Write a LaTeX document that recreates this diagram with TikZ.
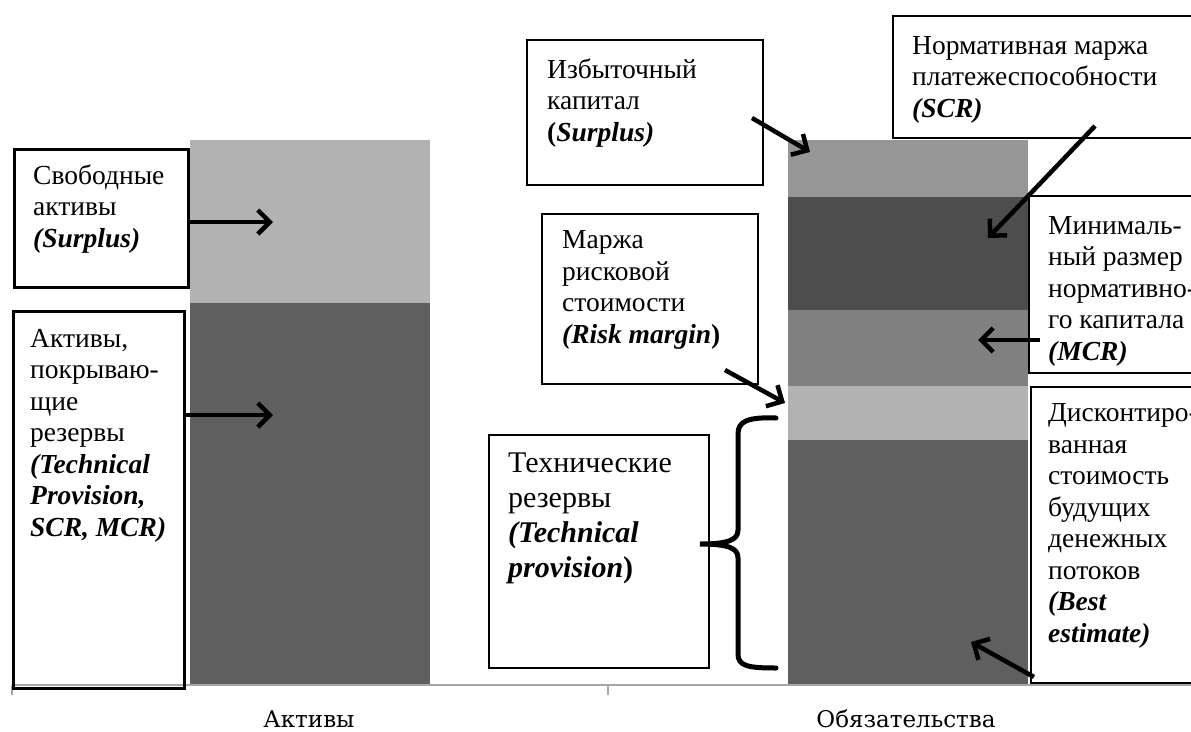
\documentclass[tikz,border=0pt]{standalone}
\usepackage{fontspec}
\setmainfont{Liberation Serif}
\newfontfamily\axisfont{DejaVu Serif}
\usetikzlibrary{arrows.meta}
\definecolor{barLight}{HTML}{B2B2B2}
\definecolor{barDark}{HTML}{5F5F5F}
\definecolor{barTop}{HTML}{969696}
\definecolor{barScr}{HTML}{4D4D4D}
\definecolor{barMcr}{HTML}{808080}

\begin{document}
\begin{tikzpicture}[x=1pt, y=-1pt,
% common options for the boxes:
frame/.style = {rectangle, draw, line width=2pt, anchor=north west, inner sep=0},
% common options for the texts (placed at the baseline of the last line):
txt/.style = {rectangle, align=left, anchor=base west, inner sep=0,
            font=\fontsize{27.5}{31.5}\selectfont},
% arrows and brace:
arr/.style = {-{Straight Barb[length=12pt, width=24pt]}, line width=4.5pt},
brace/.style = {line width=5pt, line cap=round},
axis/.style = {draw=black!35, line width=2pt},
axlbl/.style = {anchor=base, font=\axisfont\fontsize{23}{27}\selectfont}]
\useasboundingbox (0,0) rectangle (1191,731);

% axis
\draw[axis] (12,685) -- (1191,685);
\draw[axis] (12,685) -- (12,695);
\draw[axis] (608,685) -- (608,695);

% Assets bar
\fill[barLight] (190,140) rectangle (430,303);
\fill[barDark] (190,303) rectangle (430,684);
\coordinate (svEnd) at (273,222);
\coordinate (akEnd) at (273,415);

% Liabilities bar
\fill[barTop] (788,140) rectangle (1028,197);
\fill[barScr] (788,197) rectangle (1028,310);
\fill[barMcr] (788,310) rectangle (1028,386);
\fill[barLight] (788,386) rectangle (1028,440);
\fill[barDark] (788,440) rectangle (1028,684);

% Assets
\node[frame, line width=2.5pt, minimum width=174, minimum height=138] (sv) at (13,148) {};
\node[txt] (svT) at (33,247) {Свободные\\активы\\\textbf{\textit{(Surplus)}}};
\node[frame, line width=2.5pt, minimum width=171, minimum height=377] (ak) at (12,310) {};
\node[txt] (akT) at (30,536) {Активы,\\покрываю-\\щие\\резервы\\\textbf{\textit{(Technical}}\\\textbf{\textit{Provision,}}\\\textbf{\textit{SCR, MCR)}}};

\draw[arr] (sv.east |- svEnd) -- (svEnd);
\draw[arr] (ak.east |- akEnd) -- (akEnd);

% Liabilities
\node[frame, minimum width=236, minimum height=145] (izb) at (526,39) {};
\node[txt] (izbT) at (547,141) {Избыточный\\капитал\\\textbf{(\textit{Surplus)}}};
\node[frame, minimum width=216, minimum height=170] (rm) at (541,213) {};
\node[txt] (rmT) at (562,343) {Маржа\\рисковой\\стоимости\\\textbf{\textit{(Risk margin})}};
\node[frame, line width=1.5pt, minimum width=220, minimum height=233] (tp) at (488,434) {};
\node[txt, font=\fontsize{30}{35}\selectfont] (tpT) at (508,577) {Технические\\резервы\\\textbf{\textit{(Technical}}\\\textbf{\textit{provision})}};

\node[frame, minimum width=338, minimum height=122] (scr) at (892,15) {};
\node[txt] (scrT) at (912,117) {Нормативная маржа\\платежеспособности\\\textbf{\textit{(SCR)}}};
\node[frame, minimum width=202, minimum height=177] (mcr) at (1028,195) {};
\node[txt] (mcrT) at (1048,360) {Минималь-\\ный размер\\нормативно-\\го капитала\\\textbf{\textit{(MCR)}}};
\node[frame, minimum width=200, minimum height=296] (be) at (1030,386) {};
\node[txt] (beT) at (1048,642) {Дисконтиро-\\ванная\\стоимость\\будущих\\денежных\\потоков\\\textbf{\textit{(Best}}\\\textbf{\textit{estimate)}}};

\coordinate (izbS) at (752,118);
\coordinate (izbE) at (810,152);
\coordinate (rmS) at (725,370);
\coordinate (rmE) at (785,403);
\coordinate (scrS) at (1095,126);
\coordinate (scrE) at (988,238);
\coordinate (mcrS) at (1040,340);
\coordinate (mcrE) at (978,340);
\coordinate (beS) at (1034,677);
\coordinate (beE) at (971,642);
\draw[arr] (izbS) -- (izbE);
\draw[arr] (rmS) -- (rmE);
\draw[arr] (scrS) -- (scrE);
\draw[arr] (mcrS) -- (mcrE);
\draw[arr] (beS) -- (beE);

% brace
\draw[brace] (776,418) .. controls (748,417) and (738,421) .. (738,434) -- (738,530)
  .. controls (738,540) and (728,544) .. (700,544)
  .. controls (728,544) and (738,548) .. (738,558) -- (738,654)
  .. controls (738,666) and (748,668) .. (776,668);

% axis labels
\node[axlbl] (axA) at (309,727) {Активы};
\node[axlbl] (axL) at (906,727) {Обязательства};
\end{tikzpicture}
\end{document}
